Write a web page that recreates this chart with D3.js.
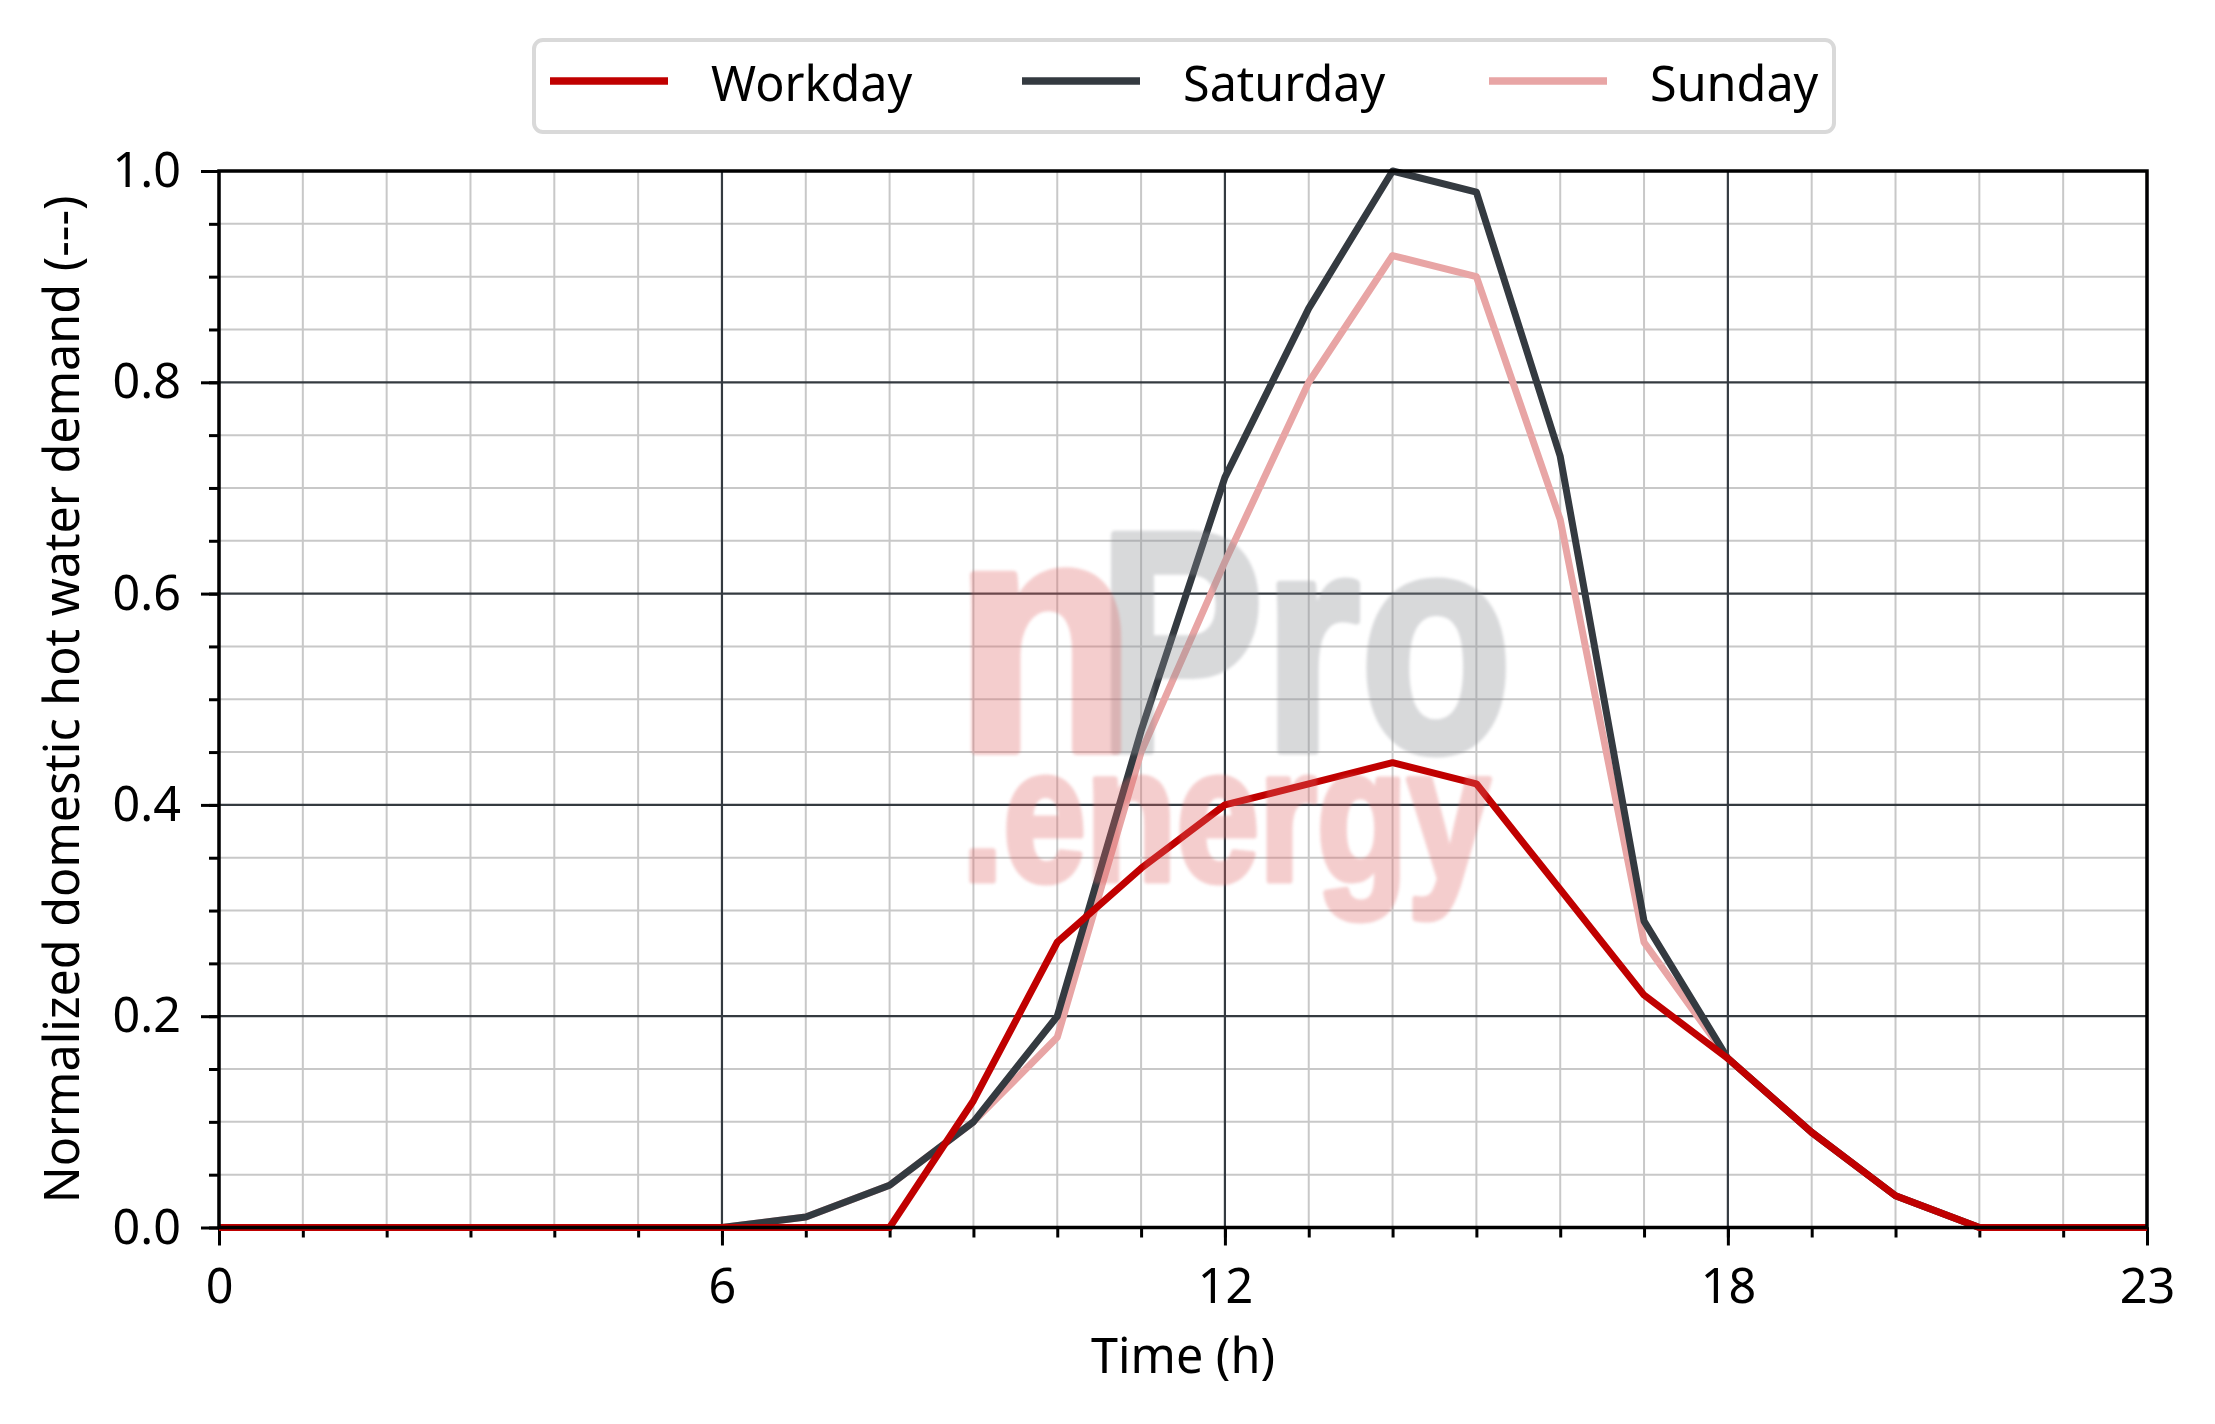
<!DOCTYPE html>
<html>
<head>
<meta charset="utf-8">
<script src="https://cdn.jsdelivr.net/npm/d3@7"></script>
<style>
  html, body { margin: 0; padding: 0; background: #fff; }
  svg { display: block; }
  text { font-family: "Noto Sans", "Open Sans", sans-serif; }
</style>
</head>
<body>
<svg id="chart" width="2215" height="1424"></svg>
<script>
// ---- data ----
const hours = d3.range(0, 24);
const workday  = [0,0,0,0,0,0,0,0,0,0.12,0.27,0.34,0.40,0.42,0.44,0.42,0.32,0.22,0.16,0.09,0.03,0,0,0];
const saturday = [0,0,0,0,0,0,0,0.01,0.04,0.10,0.20,0.47,0.71,0.87,1.00,0.98,0.73,0.29,0.16,0.09,0.03,0,0,0];
const sunday   = [0,0,0,0,0,0,0,0.01,0.04,0.10,0.18,0.45,0.63,0.80,0.92,0.90,0.67,0.27,0.16,0.09,0.03,0,0,0];
const seriesNames = ["Workday", "Saturday", "Sunday"];
const seriesColors = ["#c00000", "#343a40", "#e8a5a5"];
const xTickValues = [0, 6, 12, 18, 23];
const yTickValues = [0, 0.2, 0.4, 0.6, 0.8, 1.0];
const xLabel = "Time (h)";
const yLabel = "Normalized domestic hot water demand (---)";

// ---- layout ----
const W = 2215, H = 1424;
const m = { left: 219, right: 2147, top: 171, bottom: 1227.5 };
const svg = d3.select("#chart");
const x = d3.scaleLinear().domain([0, 23]).range([m.left, m.right]);
const y = d3.scaleLinear().domain([0, 1]).range([m.bottom, m.top]);

const fs = 48.5;
const gridMinor = "#c8c8c8", gridMajor = "#343a40";

// minor grid
const gGrid = svg.append("g");
gGrid.selectAll(".vx").data(hours.filter(h => !xTickValues.includes(h))).join("line")
  .attr("x1", d => x(d)).attr("x2", d => x(d)).attr("y1", m.top).attr("y2", m.bottom)
  .attr("stroke", gridMinor).attr("stroke-width", 2);
const yMinor = d3.range(0, 21).map(i => i * 0.05).filter(v => Math.round(v * 100) % 20 !== 0);
gGrid.selectAll(".hy").data(yMinor).join("line")
  .attr("x1", m.left).attr("x2", m.right).attr("y1", d => y(d)).attr("y2", d => y(d))
  .attr("stroke", gridMinor).attr("stroke-width", 2);
// major grid
gGrid.selectAll(".vX").data(xTickValues).join("line")
  .attr("x1", d => x(d)).attr("x2", d => x(d)).attr("y1", m.top).attr("y2", m.bottom)
  .attr("stroke", gridMajor).attr("stroke-width", 2.2);
gGrid.selectAll(".hY").data(yTickValues).join("line")
  .attr("x1", m.left).attr("x2", m.right).attr("y1", d => y(d)).attr("y2", d => y(d))
  .attr("stroke", gridMajor).attr("stroke-width", 2.2);

// axes
const xAxis = svg.append("g").attr("transform", `translate(0,${m.bottom})`)
  .call(d3.axisBottom(x).tickValues(xTickValues).tickFormat(d3.format("d")).tickSize(18).tickPadding(23));
const xAxisMinor = svg.append("g").attr("transform", `translate(0,${m.bottom})`)
  .call(d3.axisBottom(x).tickValues(hours).tickFormat("").tickSize(10));
const yAxis = svg.append("g").attr("transform", `translate(${m.left},0)`)
  .call(d3.axisLeft(y).tickValues(yTickValues).tickFormat(d3.format(".1f")).tickSize(18).tickPadding(20));
const yAxisMinor = svg.append("g").attr("transform", `translate(${m.left},0)`)
  .call(d3.axisLeft(y).tickValues(d3.range(0, 21).map(i => i * 0.05)).tickFormat("").tickSize(10));
[xAxis, xAxisMinor, yAxis, yAxisMinor].forEach(g => {
  g.select(".domain").remove();
  g.selectAll(".tick line").attr("stroke", "#000").attr("stroke-width", 3);
  g.selectAll(".tick text").attr("font-size", fs).attr("fill", "#000")
    .style("font-family", '"Noto Sans", "Open Sans", sans-serif');
});

// lines
const line = d3.line().x((d, i) => x(hours[i])).y(d => y(d));
const allSeries = [workday, saturday, sunday];
const drawOrder = [2, 1, 0];
svg.append("g").selectAll("path").data(drawOrder).join("path")
  .attr("d", i => line(allSeries[i]))
  .attr("fill", "none").attr("stroke", i => seriesColors[i])
  .attr("stroke-width", 7).attr("stroke-linejoin", "round").attr("stroke-linecap", "butt");

// spines
svg.append("rect").attr("x", m.left).attr("y", m.top)
  .attr("width", m.right - m.left).attr("height", m.bottom - m.top)
  .attr("fill", "none").attr("stroke", "#000").attr("stroke-width", 3.5);

// watermark
const wmFont = '"Liberation Sans", Arial, sans-serif';
function wmText(str, xx, yy, size, len, color, sw, op) {
  const g = svg.append("g").attr("opacity", op).style("filter", "blur(1.5px)");
  g.append("text").text(str).attr("x", xx).attr("y", yy)
    .attr("font-size", size).attr("font-weight", "bold")
    .style("font-family", wmFont)
    .attr("textLength", len).attr("lengthAdjust", "spacingAndGlyphs")
    .attr("fill", color).attr("stroke", color).attr("stroke-width", sw)
    .attr("stroke-linejoin", "round");
}
wmText("Pro", 1098, 750, 312, 414, "#8a8d92", 9, 0.33);
wmText("n", 955, 750, 330, 180, "#e06666", 10, 0.32);
wmText(".energy", 962, 880, 190, 528, "#e06666", 7, 0.32);

// axis labels
svg.append("text").text(xLabel).attr("x", (m.left + m.right) / 2).attr("y", 1373)
  .attr("text-anchor", "middle").attr("font-size", fs).attr("fill", "#000");
svg.append("text").text(yLabel)
  .attr("transform", `translate(79,${(m.top + m.bottom) / 2}) rotate(-90)`)
  .attr("text-anchor", "middle").attr("font-size", fs).attr("fill", "#000");

// legend
const lg = svg.append("g");
lg.append("rect").attr("x", 534).attr("y", 40).attr("width", 1300).attr("height", 92)
  .attr("rx", 9).attr("fill", "#fff").attr("stroke", "#d9d9d9").attr("stroke-width", 4);
const legLineX = [550, 1022, 1489];
lg.selectAll(".li").data(seriesNames).join("line")
  .attr("x1", (d, i) => legLineX[i]).attr("x2", (d, i) => legLineX[i] + 118)
  .attr("y1", 81).attr("y2", 81)
  .attr("stroke", (d, i) => seriesColors[i]).attr("stroke-width", 7.5);
lg.selectAll(".lt").data(seriesNames).join("text")
  .text(d => d).attr("x", (d, i) => legLineX[i] + 161).attr("y", 101)
  .attr("font-size", fs).attr("fill", "#000");
</script>
</body>
</html>
